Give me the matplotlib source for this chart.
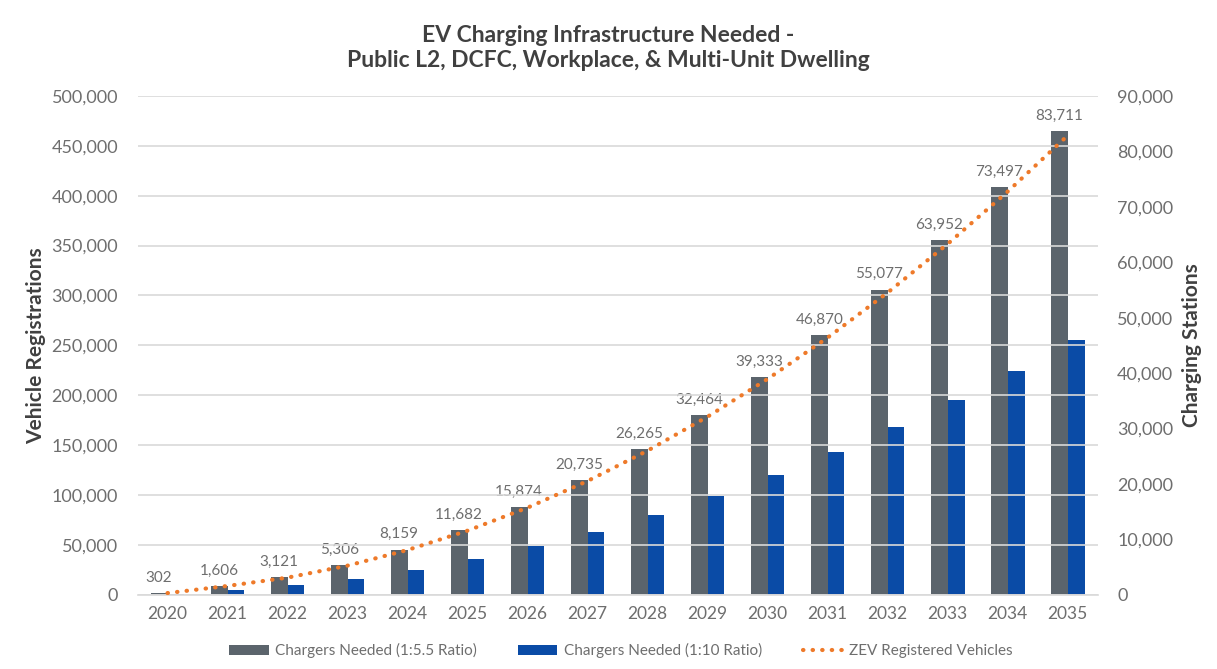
import matplotlib
matplotlib.use("Agg")
import matplotlib.pyplot as plt
import numpy as np
from matplotlib.ticker import FuncFormatter, MultipleLocator

years = ["2020", "2021", "2022", "2023", "2024", "2025", "2026", "2027",
         "2028", "2029", "2030", "2031", "2032", "2033", "2034", "2035"]
chargers_55 = [302, 1606, 3121, 5306, 8159, 11682, 15874, 20735,
               26265, 32464, 39333, 46870, 55077, 63952, 73497, 83711]
chargers_10 = [166, 883, 1717, 2918, 4487, 6425, 8731, 11404,
               14446, 17855, 21633, 25779, 30292, 35174, 40423, 46041]
zev_vehicles = [1660, 8830, 17170, 29180, 44870, 64250, 87310, 114040,
                144460, 178550, 216330, 257790, 302920, 351740, 404230, 460410]

plt.rcParams['font.family'] = ['Lato', 'DejaVu Sans']
tick_col = '#6E6E6E'
gray = '#5B646C'
blue = '#0A4BA6'
orange = '#EE7A2A'

fig = plt.figure(figsize=(12.17, 6.69), dpi=100)
ax = fig.add_axes([0.113, 0.111, 0.789, 0.7455])
ax2 = ax.twinx()

x = np.arange(len(years))
w = 0.28
# bars on right axis
b1 = ax2.bar(x - w/2, chargers_55, width=w, color=gray, label='Chargers Needed (1:5.5 Ratio)', zorder=2)
b2 = ax2.bar(x + w/2, chargers_10, width=w, color=blue, label='Chargers Needed (1:10 Ratio)', zorder=2)
for xi, v in zip(x, chargers_55):
    ax2.text(xi - w/2, v + 1500, f"{v:,}", ha='center', va='bottom', fontsize=11, color=tick_col)

ln, = ax.plot(x, zev_vehicles, linestyle=(0, (0.1, 2.2)), dash_capstyle='round',
              linewidth=3, color=orange, label='ZEV Registered Vehicles', zorder=5)

ax.set_ylim(0, 500000)
ax2.set_ylim(0, 90000)
ax.set_xlim(-0.5, 15.5)
ax.yaxis.set_major_locator(MultipleLocator(50000))
ax2.yaxis.set_major_locator(MultipleLocator(10000))
fmt = FuncFormatter(lambda v, p: f"{int(v):,}")
ax.yaxis.set_major_formatter(fmt)
ax2.yaxis.set_major_formatter(fmt)
ax.set_xticks(x)
ax.set_xticklabels(years)

ax.grid(axis='y', color='#D9D9D9', linewidth=1.2, zorder=0)
ax.set_axisbelow(True)
ax.set_zorder(ax2.get_zorder() + 1)
ax.patch.set_visible(False)

for a in (ax, ax2):
    for s in a.spines.values():
        s.set_visible(False)
    a.tick_params(length=0, colors=tick_col, labelsize=13)
ax.tick_params(axis='y', pad=14)
ax2.tick_params(axis='y', pad=14)
ax.tick_params(axis='x', pad=8, labelsize=12.5)
ax.spines['bottom'].set_visible(True)
ax.spines['bottom'].set_color('#D9D9D9')
ax.spines['bottom'].set_linewidth(1.2)

ax.set_ylabel('Vehicle Registrations', fontsize=15, fontweight='bold', color='#404040', labelpad=4)
ax2.set_ylabel('Charging Stations', fontsize=15, fontweight='bold', color='#404040', labelpad=6)

fig.suptitle('EV Charging Infrastructure Needed -\nPublic L2, DCFC, Workplace, & Multi-Unit Dwelling',
             fontsize=16.5, fontweight='bold', color='#404040', y=0.928, va='center', linespacing=1.25)

fig.legend([b1, b2, ln], [b1.get_label(), b2.get_label(), ln.get_label()],
           loc='center', bbox_to_anchor=(0.51, 0.027), ncol=3, frameon=False,
           fontsize=11, labelcolor=tick_col, columnspacing=2.7, handlelength=2.6,
           handletextpad=0.4, handleheight=0.6)

fig.savefig('out.png', dpi=100)
